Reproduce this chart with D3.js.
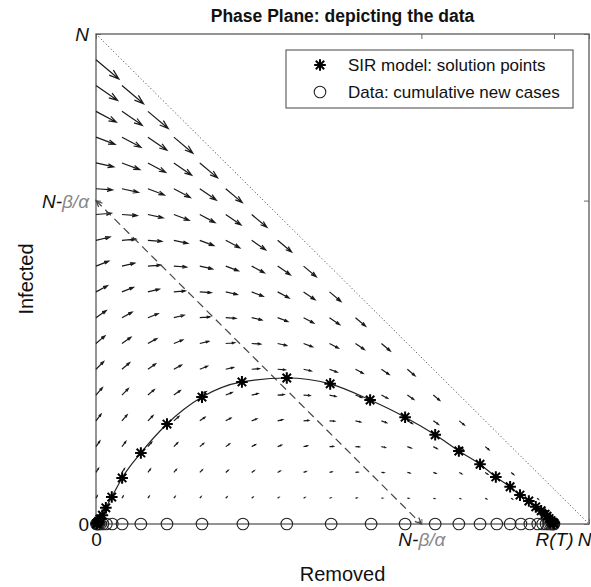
<!DOCTYPE html>
<html><head><meta charset="utf-8">
<script src="https://cdn.jsdelivr.net/npm/d3@7"></script>
<style>body{margin:0;background:#fff}svg{display:block}text{font-family:"Liberation Sans",Arial,sans-serif}</style>
</head><body><svg id="c" width="591" height="587"></svg>
<script>
// Values in units of N (total population)
const N = 1;
const rhoRatio = 0.34;            // beta/alpha, read from the N-beta/alpha ticks
const thresh = N - rhoRatio;      // N - beta/alpha
const RT = 0.929;                 // R(T)

// SIR model solution points (R, I)
const modelR = [0.001,0.002,0.0035,0.0055,0.008,0.013,0.020,0.032,0.053,0.091,0.144,0.215,0.296,0.387,0.475,0.556,0.627,0.688,0.736,0.779,0.811,0.840,0.860,0.878,0.892,0.903,0.911,0.915,0.919,0.923,0.926,0.928,0.929];
const modelI = [0.0004,0.0014,0.003,0.006,0.010,0.018,0.033,0.055,0.094,0.145,0.204,0.259,0.290,0.298,0.286,0.253,0.218,0.182,0.149,0.122,0.096,0.076,0.059,0.047,0.035,0.027,0.020,0.016,0.011,0.007,0.004,0.002,0.001];
// Data: cumulative new cases (plotted on the R axis)
const dataR = [0.001,0.002,0.004,0.006,0.009,0.014,0.021,0.033,0.053,0.091,0.144,0.215,0.298,0.387,0.477,0.558,0.627,0.688,0.736,0.779,0.813,0.840,0.862,0.880,0.896,0.906,0.913,0.918,0.922,0.925,0.927,0.928,0.929];

const xTickVals = [0, thresh, RT, N];
const xTickLabels = ["0", "N-β/α", "R(T)", "N"];
const yTickVals = [0, thresh, N];
const yTickLabels = ["0", "N-β/α", "N"];

const gridStep = N/19;
const arrowScale = 0.144;

const svg = d3.select("#c");
const L=96, T=34, Rr=589, B=524;
const x = d3.scaleLinear().domain([0,N]).range([L,Rr]);
const y = d3.scaleLinear().domain([0,N]).range([B,T]);

// title
svg.append("text").attr("x",(L+Rr)/2).attr("y",22).attr("text-anchor","middle")
  .attr("font-weight","bold").attr("font-size",17.5).attr("fill","#111").text("Phase Plane: depicting the data");

// axes box
svg.append("rect").attr("x",L).attr("y",T).attr("width",Rr-L).attr("height",B-T)
  .attr("fill","none").attr("stroke","#666").attr("stroke-width",1.4);

function labelFmt(sel, labels){
  sel.each(function(d,i){
    const t=d3.select(this); t.text(null);
    const lab=labels[i];
    if(lab==="0"){ t.append("tspan").text("0"); }
    else if(lab==="N-β/α"){ t.append("tspan").attr("font-style","italic").attr("fill","#111").text("N-");
      t.append("tspan").attr("font-style","italic").attr("fill","#888").text("β/α"); }
    else { t.append("tspan").attr("font-style","italic").text(lab); }
  });
}
const fs=19;
const gx = svg.append("g").attr("transform",`translate(0,${B})`)
  .call(d3.axisBottom(x).tickValues(xTickVals).tickSizeInner(-5).tickSizeOuter(0).tickPadding(9).tickFormat((d,i)=>xTickLabels[i]));
const gxt = svg.append("g").attr("transform",`translate(0,${T})`)
  .call(d3.axisTop(x).tickValues(xTickVals).tickSizeInner(-5).tickSizeOuter(0).tickFormat(""));
const gy = svg.append("g").attr("transform",`translate(${L},0)`)
  .call(d3.axisLeft(y).tickValues(yTickVals).tickSizeInner(-5).tickSizeOuter(0).tickPadding(7).tickFormat((d,i)=>yTickLabels[i]));
const gyr = svg.append("g").attr("transform",`translate(${Rr},0)`)
  .call(d3.axisRight(y).tickValues(yTickVals).tickSizeInner(-5).tickSizeOuter(0).tickFormat(""));
[gx,gxt,gy,gyr].forEach(g=>{g.select(".domain").remove(); g.selectAll("line").attr("stroke","#666");
  g.selectAll("text").attr("font-size",fs).attr("fill","#111").attr("font-family","'Liberation Sans',Arial,sans-serif");});
labelFmt(gx.selectAll(".tick text"), xTickLabels);
labelFmt(gy.selectAll(".tick text"), yTickLabels);
gy.selectAll(".tick text").attr("dy","0.35em");
// last x tick label (N) sits at the window edge: keep it inside
gx.selectAll(".tick text").filter((d,i)=>i===xTickVals.length-1).attr("text-anchor","end").attr("x",591-Rr);

// axis labels
svg.append("text").attr("x",(L+Rr)/2).attr("y",581).attr("text-anchor","middle").attr("font-size",20).attr("fill","#111").text("Removed");
svg.append("text").attr("transform",`translate(33,${(T+B)/2}) rotate(-90)`).attr("text-anchor","middle").attr("font-size",20).attr("fill","#111").text("Infected");

// dotted line S=0
svg.append("line").attr("x1",x(0)).attr("y1",y(N)).attr("x2",x(N)).attr("y2",y(0))
  .attr("stroke","#333").attr("stroke-width",1).attr("stroke-dasharray","1,2.5");

// quiver field
const qg = svg.append("g").attr("stroke","#1a1a1a").attr("stroke-width",1.2).attr("fill","none");
const nG = Math.round(N/gridStep);
for(let i=0;i<nG;i++){ for(let j=1;i+j<nG;j++){
  const R=i*gridStep, I=j*gridStep, S=N-R-I;
  const u=rhoRatio*I*arrowScale, v=I*(S-rhoRatio)*arrowScale;
  const x0=x(R), y0=y(I), x1=x(R+u), y1=y(I+v);
  const du=x1-x0, dv=y1-y0, a=0.33, b=0.33;
  const h1x=x1-a*(du+b*dv), h1y=y1-a*(dv-b*du);
  const h2x=x1-a*(du-b*dv), h2y=y1-a*(dv+b*du);
  qg.append("path").attr("d",`M${x0},${y0}L${x1},${y1}M${h1x},${h1y}L${x1},${y1}L${h2x},${h2y}`);
}}

// dashed threshold line with arrowheads
const dx0=x(0), dy0=y(thresh), dx1=x(thresh), dy1=y(0);
svg.append("line").attr("x1",dx0).attr("y1",dy0).attr("x2",dx1).attr("y2",dy1)
  .attr("stroke","#444").attr("stroke-width",1.2).attr("stroke-dasharray","8,5");
function head(xa,ya,xb,yb){ // head at (xb,yb) pointing from a to b
  const ang=Math.atan2(yb-ya,xb-xa), len=7, w=0.4;
  svg.append("path").attr("d",`M${xb-len*Math.cos(ang-w)},${yb-len*Math.sin(ang-w)}L${xb},${yb}L${xb-len*Math.cos(ang+w)},${yb-len*Math.sin(ang+w)}`)
    .attr("stroke","#444").attr("fill","none").attr("stroke-width",1.2);
}
head(dx0,dy0,dx1,dy1); head(dx1,dy1,dx0,dy0);

// model curve
const pts = modelR.map((r,i)=>[r,modelI[i]]);
svg.append("path").attr("d",d3.line().x(d=>x(d[0])).y(d=>y(d[1])).curve(d3.curveMonotoneX)([[0,0],...pts,[RT,0]]))
  .attr("fill","none").attr("stroke","#222").attr("stroke-width",1.2);

// data circles
svg.append("g").selectAll("circle").data(dataR).join("circle")
  .attr("cx",d=>x(d)).attr("cy",y(0)).attr("r",5.8).attr("fill","none").attr("stroke","#222").attr("stroke-width",1.1);

// star markers
const starD="M-5.8,0H5.8M0,-5.8V5.8M-4.2,-4.2L4.2,4.2M-4.2,4.2L4.2,-4.2";
svg.append("g").selectAll("path").data(pts).join("path")
  .attr("transform",d=>`translate(${x(d[0])},${y(d[1])})`).attr("d",starD)
  .attr("stroke","#000").attr("stroke-width",2).attr("fill","none");

// legend
const lg = svg.append("g");
lg.append("rect").attr("x",286).attr("y",50).attr("width",287).attr("height",58).attr("fill","#fff").attr("stroke","#444").attr("stroke-width",1);
lg.append("path").attr("transform","translate(320,65)").attr("d",starD).attr("stroke","#000").attr("stroke-width",2);
lg.append("circle").attr("cx",320).attr("cy",92).attr("r",5.8).attr("fill","none").attr("stroke","#222").attr("stroke-width",1.1);
lg.append("text").attr("x",348).attr("y",71).attr("font-size",17).attr("fill","#111").text("SIR model: solution points");
lg.append("text").attr("x",348).attr("y",98).attr("font-size",17).attr("fill","#111").text("Data: cumulative new cases");
</script></body></html>
